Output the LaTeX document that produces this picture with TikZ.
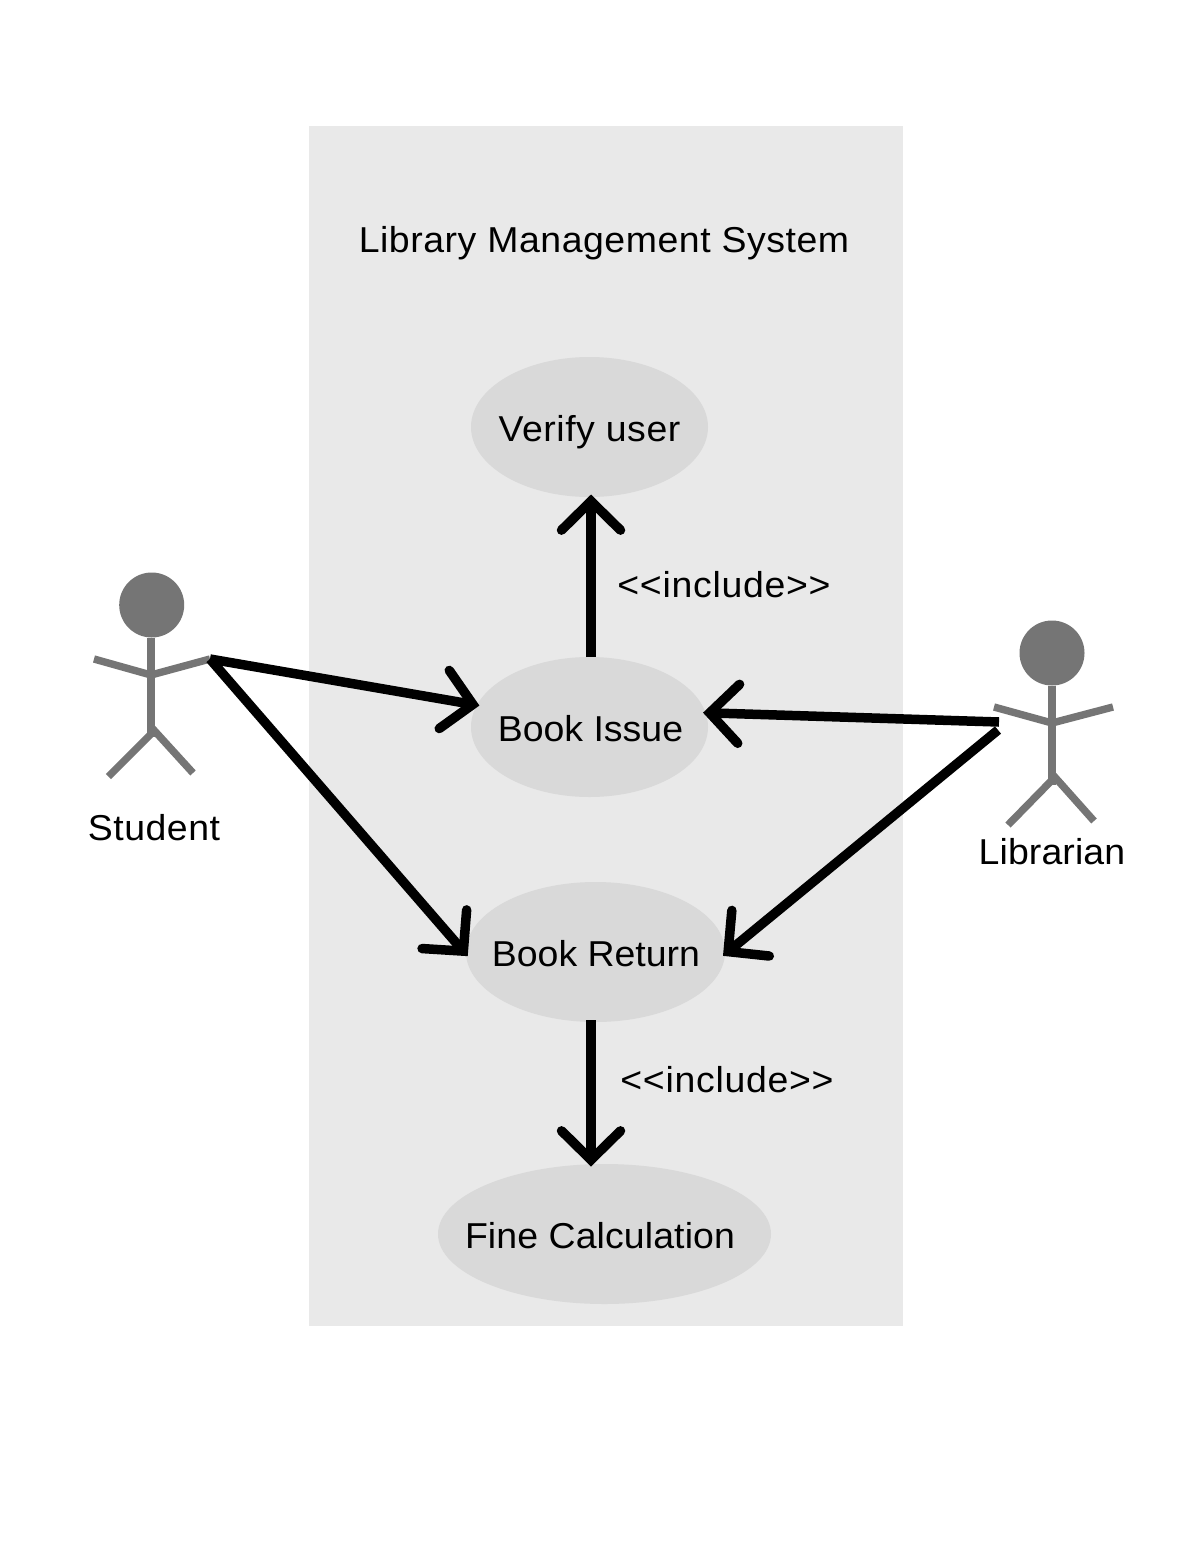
\documentclass[tikz,border=0pt]{standalone}
\usepackage{fontspec}
\setmainfont[FakeStretch=1.04]{Liberation Sans}
\usetikzlibrary{arrows.meta,shapes.geometric}
\definecolor{sysbg}{HTML}{E9E9E9}
\definecolor{ucfill}{HTML}{D9D9D9}
\definecolor{actorgray}{HTML}{757575}
\tikzset{
  usecase/.style={ellipse,fill=ucfill,draw=none,inner sep=0pt,outer sep=0pt,minimum width=#1,minimum height=140pt},
  lbl/.style={anchor=base,inner sep=0pt,outer sep=0pt,text=black,font=\fontsize{36}{40}\selectfont\addfontfeature{LetterSpace=#1}},
  lbl/.default=1.5,
  head/.style={circle,fill=actorgray,draw=none,inner sep=0pt,outer sep=0pt,minimum size=65pt},
  limb/.style={draw=actorgray,line width=7.4pt,line cap=butt,line join=miter},
  link/.style={draw=black,line width=9.5pt,line cap=butt,shorten >=-2.5pt,
    -{Straight Barb[length=29pt,width=59pt,line cap=round,line join=miter]}}
}
\begin{document}
\begin{tikzpicture}[x=1pt,y=-1pt]
\useasboundingbox (0,0) rectangle (1182,1560);
\fill[white] (0,0) rectangle (1182,1560);
\fill[sysbg] (309,126) rectangle (903,1326);

% use cases
\node[usecase=237pt] (verify) at (589.5,427) {};
\node[usecase=237pt] (issue)  at (589.5,727) {};
\node[usecase=259pt] (return) at (595.5,952) {};
\node[usecase=333pt] (fine)   at (604.5,1234) {};

% actors
\node[head] (studenthead) at (151.7,605) {};
\coordinate (studentneck) at (151,675);
\coordinate (studentlap) at (151,737);
\coordinate (studenthand) at (210,659);
\draw[limb] (studenthead.south -| studentneck) -- (studentlap);
\draw[limb] (94,659) -- (studentneck) -- (studenthand);
\draw[limb] (108.5,776.5) -- (154,731);
\draw[limb] (152,728) -- (193,773);

\node[head] (libhead) at (1052,653) {};
\coordinate (libneck) at (1052,723);
\coordinate (liblap) at (1052,785);
\coordinate (libhandA) at (999,722);
\coordinate (libhandB) at (998,730);
\draw[limb] (libhead.south) -- (liblap);
\draw[limb] (994,707) -- (libneck) -- (1113,707);
\draw[limb] (1008,825) -- (1054,778);
\draw[limb] (1053,775) -- (1094,821);

% connectors
\coordinate (stem) at (591,0);
\draw[link] (studenthand) -- (issue.169);
\draw[link] (studenthand) -- (return.181);
\draw[link] (libhandA) -- (issue.7);
\draw[link] (libhandB) -- (return.-1);
\draw[link] (stem |- issue.north) -- (stem |- verify.south);
\draw[link,shorten <=-2pt] (stem |- return.south) -- (stem |- fine.north);

% labels
\node[lbl] (title) at (604,252) {Library Management System};
\node[lbl] (verifytxt) at (589.5,441) {Verify user};
\node[lbl=0] (issuetxt) at (590.5,741) {Book Issue};
\node[lbl=0] (returntxt) at (596,966) {Book Return};
\node[lbl=0.3] (finetxt) at (600,1248) {Fine Calculation};
\node[lbl=2] (incA) at (724,597) {<{}<include>{}>};
\node[lbl=2] (incB) at (727,1092) {<{}<include>{}>};
\node[lbl] (studenttxt) at (154,840) {Student};
\node[lbl=0.3] (libtxt) at (1052,864) {Librarian};
\end{tikzpicture}
\end{document}
